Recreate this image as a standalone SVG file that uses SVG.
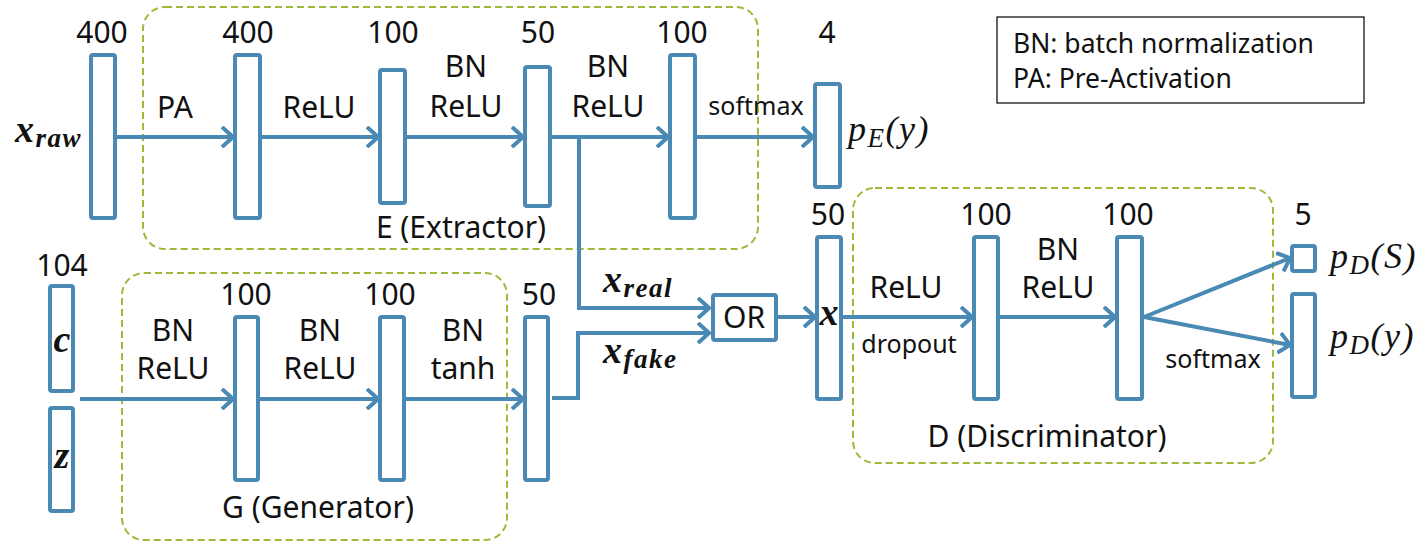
<svg xmlns="http://www.w3.org/2000/svg" width="1428" height="547" viewBox="0 0 1428 547">
<style>
.ly{fill:#fff;stroke:#4a89b3;stroke-width:4;}
.grp{fill:none;stroke:#9dbb3a;stroke-width:2;stroke-dasharray:7,4;}
.cn{fill:none;stroke:#4a89b3;stroke-width:4;}
.t{font-family:"Noto Sans","Open Sans",sans-serif;font-size:30px;fill:#111;text-anchor:middle;}
.s{font-family:"Noto Sans","Open Sans",sans-serif;font-size:25px;fill:#111;text-anchor:middle;}
.lg{font-family:"Noto Sans","Open Sans",sans-serif;font-size:26.5px;fill:#111;}
.mb{font-family:"Liberation Serif","DejaVu Serif",serif;font-style:italic;font-weight:bold;font-size:38px;fill:#111;}
.mi{font-family:"Liberation Serif","DejaVu Serif",serif;font-style:italic;font-size:36px;fill:#111;}
.sub{font-size:27px;}
.sp{letter-spacing:1.5px;}
</style>
<defs>
<marker id="ah" markerUnits="userSpaceOnUse" viewBox="0 0 14 22" refX="12" refY="11" markerWidth="14" markerHeight="22" orient="auto">
<path d="M1,1 L12,11 L1,21" fill="none" stroke="#4a89b3" stroke-width="4"/>
</marker>
</defs>

<g id="group-E"><rect class="grp" x="143" y="7" width="615" height="242" rx="22"/><text class="t" x="461" y="238">E (Extractor)</text></g>
<g id="group-G"><rect class="grp" x="122" y="273" width="385" height="267" rx="22"/><text class="t" x="318" y="518">G (Generator)</text></g>
<g id="group-D"><rect class="grp" x="853" y="188" width="420" height="275" rx="22"/><text class="t" x="1047" y="447">D (Discriminator)</text></g>

<g id="legend"><rect x="997" y="17" width="367" height="86" fill="#fff" stroke="#000" stroke-width="1.2"/><text class="lg" x="1013" y="53">BN: batch normalization</text><text class="lg" x="1013" y="88">PA: Pre-Activation</text></g>

<g id="connectors">
<line class="cn" x1="117" y1="137" x2="233" y2="137" marker-end="url(#ah)"/>
<line class="cn" x1="262" y1="137" x2="378" y2="137" marker-end="url(#ah)"/>
<line class="cn" x1="407" y1="137" x2="523" y2="137" marker-end="url(#ah)"/>
<line class="cn" x1="552" y1="137" x2="668" y2="137" marker-end="url(#ah)"/>
<line class="cn" x1="697" y1="137" x2="813" y2="137" marker-end="url(#ah)"/>
<polyline class="cn" points="579,137 579,308 709,308" marker-end="url(#ah)"/>
<polyline class="cn" points="552,398 578,398 578,333 709,333" marker-end="url(#ah)"/>
<line class="cn" x1="778" y1="317" x2="815" y2="317" marker-end="url(#ah)"/>
<line class="cn" x1="843" y1="317" x2="972" y2="317" marker-end="url(#ah)"/>
<line class="cn" x1="1000" y1="317" x2="1115" y2="317" marker-end="url(#ah)"/>
<line class="cn" x1="1144" y1="317" x2="1290" y2="258" marker-end="url(#ah)"/>
<line class="cn" x1="1144" y1="317" x2="1290" y2="345" marker-end="url(#ah)"/>
<line class="cn" x1="80" y1="399" x2="233" y2="399" marker-end="url(#ah)"/>
<line class="cn" x1="260" y1="399" x2="378" y2="399" marker-end="url(#ah)"/>
<line class="cn" x1="406" y1="399" x2="523" y2="399" marker-end="url(#ah)"/>
</g>

<g id="edge-labels">
<text class="t" x="175" y="118">PA</text>
<text class="t" x="319" y="118">ReLU</text>
<text class="t" x="466" y="77">BN</text><text class="t" x="466" y="117">ReLU</text>
<text class="t" x="608" y="77">BN</text><text class="t" x="608" y="117">ReLU</text>
<text class="s" x="756" y="115">softmax</text>
<text class="t" x="173" y="341">BN</text><text class="t" x="173" y="379">ReLU</text>
<text class="t" x="320" y="341">BN</text><text class="t" x="320" y="379">ReLU</text>
<text class="t" x="463" y="341">BN</text><text class="t" x="463" y="379">tanh</text>
<text class="mb sp" x="603" y="292">x<tspan class="sub" dy="5">real</tspan></text>
<text class="mb sp" x="603" y="363">x<tspan class="sub" dy="5">fake</tspan></text>
<text class="t" x="906" y="298">ReLU</text>
<text class="s" x="909" y="353">dropout</text>
<text class="t" x="1058" y="260">BN</text><text class="t" x="1058" y="298">ReLU</text>
<text class="s" x="1213" y="368">softmax</text>
</g>

<g id="n-xraw"><rect class="ly" x="91" y="55" width="24" height="163" rx="2"/><text class="t" x="102" y="43">400</text><text class="mb sp" x="15" y="142">x<tspan class="sub" dy="5">raw</tspan></text></g>
<g id="n-e1"><rect class="ly" x="235" y="55" width="25" height="163" rx="2"/><text class="t" x="248" y="43">400</text></g>
<g id="n-e2"><rect class="ly" x="380" y="70" width="25" height="133" rx="2"/><text class="t" x="393" y="43">100</text></g>
<g id="n-e3"><rect class="ly" x="525" y="67" width="25" height="139" rx="2"/><text class="t" x="538" y="43">50</text></g>
<g id="n-e4"><rect class="ly" x="670" y="55" width="25" height="163" rx="2"/><text class="t" x="682" y="43">100</text></g>
<g id="n-pe"><rect class="ly" x="815" y="84" width="25" height="103" rx="2"/><text class="t" x="827" y="43">4</text><text class="mi sp" x="848" y="141">p<tspan class="sub" dy="6">E</tspan><tspan dy="-6">(y)</tspan></text></g>

<g id="n-c"><rect class="ly" x="50" y="286" width="23" height="105" rx="2"/><text class="t" x="62" y="276">104</text><text class="mb" x="62" y="352" text-anchor="middle">c</text></g>
<g id="n-z"><rect class="ly" x="50" y="408" width="23" height="103" rx="2"/><text class="mb" x="62" y="468" text-anchor="middle">z</text></g>
<g id="n-g1"><rect class="ly" x="235" y="317" width="23" height="163" rx="2"/><text class="t" x="246" y="305">100</text></g>
<g id="n-g2"><rect class="ly" x="380" y="317" width="24" height="163" rx="2"/><text class="t" x="390" y="305">100</text></g>
<g id="n-g3"><rect class="ly" x="525" y="317" width="23" height="163" rx="2"/><text class="t" x="539" y="305">50</text></g>

<g id="n-or"><rect class="ly" x="713" y="295" width="63" height="45" rx="2"/><text class="t" x="744" y="328">OR</text></g>
<g id="n-x"><rect class="ly" x="817" y="237" width="24" height="162" rx="2"/><text class="t" x="828" y="225">50</text><text class="mb" x="829" y="325" text-anchor="middle">x</text></g>
<g id="n-d1"><rect class="ly" x="974" y="237" width="24" height="162" rx="2"/><text class="t" x="986" y="225">100</text></g>
<g id="n-d2"><rect class="ly" x="1117" y="237" width="25" height="162" rx="2"/><text class="t" x="1128" y="225">100</text></g>
<g id="n-ps"><rect class="ly" x="1292" y="246" width="23" height="25" rx="2"/><text class="t" x="1303" y="225">5</text><text class="mi sp" x="1330" y="268">p<tspan class="sub" dy="6">D</tspan><tspan dy="-6">(S)</tspan></text></g>
<g id="n-py"><rect class="ly" x="1292" y="294" width="23" height="103" rx="2"/><text class="mi sp" x="1330" y="348">p<tspan class="sub" dy="6">D</tspan><tspan dy="-6">(y)</tspan></text></g>
</svg>
